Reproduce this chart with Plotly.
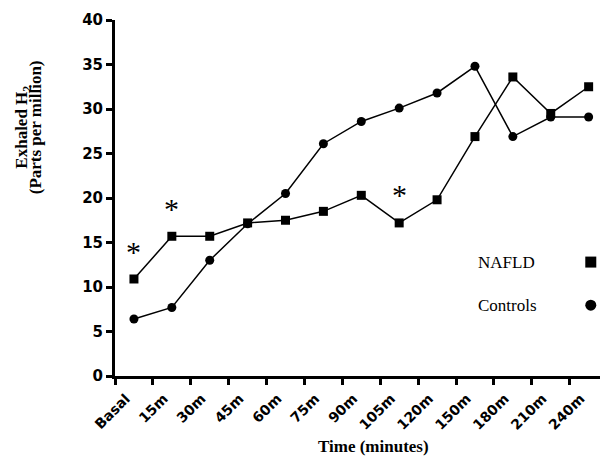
import plotly.graph_objects as go

categories = ["Basal", "15m", "30m", "45m", "60m", "75m", "90m", "105m",
              "120m", "150m", "180m", "210m", "240m"]
nafld = [10.9, 15.7, 15.7, 17.2, 17.5, 18.5, 20.3, 17.2, 19.8, 26.9, 33.6, 29.5, 32.5]
controls = [6.4, 7.7, 13.0, 17.1, 20.5, 26.1, 28.6, 30.1, 31.8, 34.8, 26.9, 29.1, 29.1]
y_ticks = [0, 5, 10, 15, 20, 25, 30, 35, 40]
sig_points = ["Basal", "15m", "105m"]
sig_heights = [14.0, 18.8, 20.4]

fig = go.Figure()
fig.add_trace(go.Scatter(x=categories, y=nafld, mode="lines+markers", name="NAFLD",
                         line=dict(color="black", width=1.5),
                         marker=dict(symbol="square", size=9, color="black"),
                         cliponaxis=False, hoverinfo="skip"))
fig.add_trace(go.Scatter(x=categories, y=controls, mode="lines+markers", name="Controls",
                         line=dict(color="black", width=1.5),
                         marker=dict(symbol="circle", size=9, color="black"),
                         cliponaxis=False, hoverinfo="skip"))

for c, h in zip(sig_points, sig_heights):
    fig.add_annotation(x=c, y=h, xref="x", yref="y", text="*", showarrow=False,
                       font=dict(family="Liberation Serif", size=30, color="black"),
                       xanchor="center", yanchor="middle")

# axis titles
fig.add_annotation(x=-0.190, y=0.70, xref="paper", yref="paper",
                   text="<b>Exhaled H<sub>2</sub></b>", textangle=-90, showarrow=False,
                   font=dict(family="Liberation Serif", size=17, color="black"),
                   xanchor="center", yanchor="middle")
fig.add_annotation(x=-0.164, y=0.70, xref="paper", yref="paper",
                   text="<b>(Parts per million)</b>", textangle=-90, showarrow=False,
                   font=dict(family="Liberation Serif", size=17, color="black"),
                   xanchor="center", yanchor="middle")
fig.add_annotation(x=0.532, y=-0.197, xref="paper", yref="paper",
                   text="<b>Time (minutes)</b>", showarrow=False,
                   font=dict(family="Liberation Serif", size=17, color="black"),
                   xanchor="center", yanchor="middle")

# legend
leg_names = ["NAFLD", "Controls"]
leg_y = [0.320, 0.199]
for name, yy in zip(leg_names, leg_y):
    fig.add_annotation(x=0.744, y=yy, xref="paper", yref="paper", text=name,
                       showarrow=False, xanchor="left", yanchor="middle",
                       font=dict(family="Liberation Serif", size=17, color="black"))
hx, hy = 5.5 / 485, 5.5 / 356
mx = 0.981
fig.add_shape(type="rect", xref="paper", yref="paper",
              x0=mx - hx, x1=mx + hx, y0=leg_y[0] - hy, y1=leg_y[0] + hy,
              fillcolor="black", line=dict(width=0))
fig.add_shape(type="circle", xref="paper", yref="paper",
              x0=mx - hx, x1=mx + hx, y0=leg_y[1] - hy, y1=leg_y[1] + hy,
              fillcolor="black", line=dict(width=0))

fig.update_layout(
    width=600, height=463,
    margin=dict(l=115, r=0, t=20, b=87),
    paper_bgcolor="white", plot_bgcolor="white",
    showlegend=False, hovermode=False,
    xaxis=dict(type="category", categoryorder="array", categoryarray=categories,
               range=[-0.5, 12.3], tickson="boundaries", automargin=False,
               showline=True, linecolor="black", linewidth=3,
               ticks="outside", ticklen=6, tickwidth=3, tickcolor="black",
               tickangle=-45, showgrid=False, zeroline=False,
               ticklabelstandoff=6, ticklabelshift=-8,
               tickfont=dict(family="DejaVu Sans", size=14, color="black", weight="bold")),
    yaxis=dict(range=[0, 40], tickvals=y_ticks, automargin=False,
               showline=True, linecolor="black", linewidth=3,
               ticks="outside", ticklen=6, tickwidth=3, tickcolor="black",
               showgrid=False, zeroline=False,
               tickfont=dict(family="DejaVu Sans", size=15, color="black", weight="bold")),
)

fig.write_html("out.html", config={"displayModeBar": False},
               post_script="document.body.style.margin='0';document.body.style.overflow='hidden';")
